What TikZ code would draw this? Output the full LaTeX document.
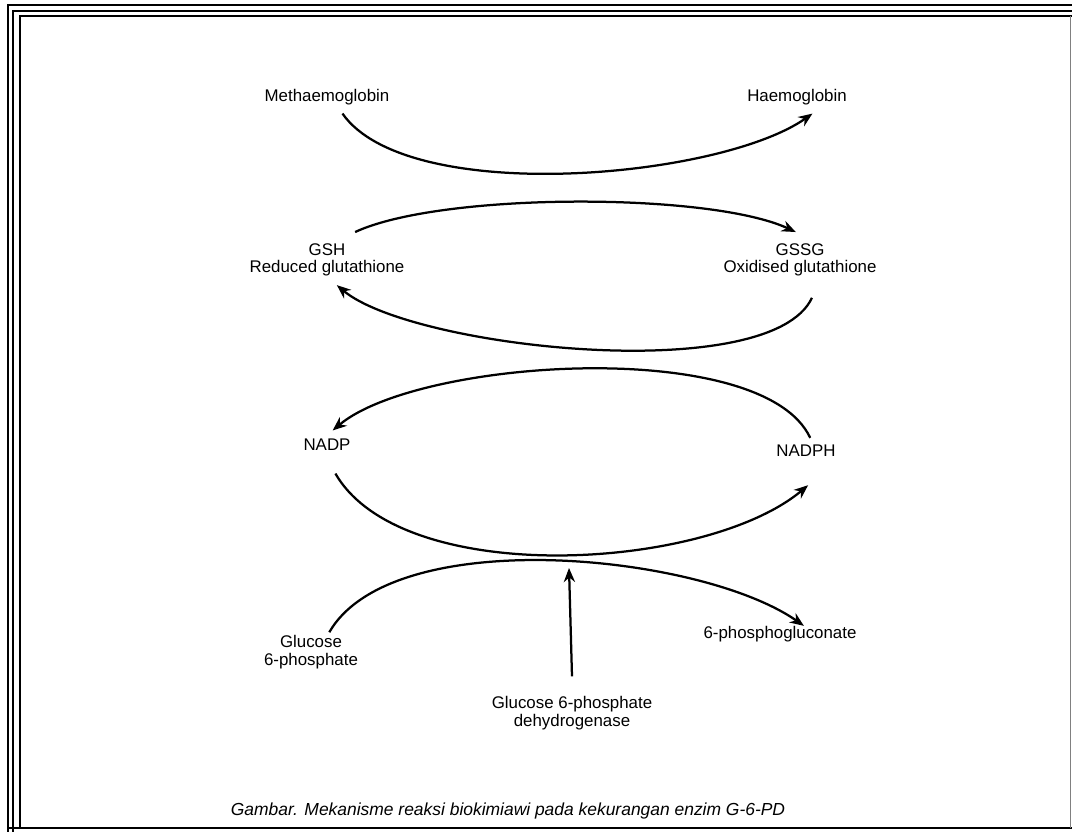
\documentclass[tikz,border=0pt]{standalone}
\usepackage{fontspec}
\setmainfont{Liberation Sans}
\usepackage{tikz}
\usetikzlibrary{arrows.meta,positioning,calc}

\begin{document}
\begin{tikzpicture}[x=0.025cm, y=-0.025cm,
    lbl/.style={font=\fontsize{12}{12.5}\selectfont, inner sep=2pt, align=center},
    flow/.style={line width=1.6pt, -{Stealth[length=10pt,width=8pt]}}]
    \useasboundingbox[fill=white] (0,0) rectangle (1072,832);

    % frame
    \draw[line width=1.3pt] (8,832) |- (1072,5);
    \draw[line width=1.3pt] (13,832) |- (1072,11);
    \draw[line width=0.9pt] (20,827) |- (1072,16);
    \draw[line width=1.6pt] (8,828) -- (1072,828);
    \draw[gray, line width=0.4pt] (1070,16) -- (1070,828);

    % compounds
    \node[lbl] (meth) at (327,97) {Methaemoglobin};
    \node[lbl] (haem) at (797,97) {Haemoglobin};
    \node[lbl] (gsh) at (327,260) {GSH\\Reduced glutathione};
    \node[lbl] (gssg) at (800,260) {GSSG\\Oxidised glutathione};
    \node[lbl] (nadp) at (327,445) {NADP};
    \node[lbl] (nadph) at (806,451) {NADPH};
    \node[lbl] (g6p) at (311,652) {Glucose\\6-phosphate};
    \node[lbl] (pgl) at (780,634) {6-phosphogluconate};
    \node[lbl] (g6pd) at (572,713) {Glucose 6-phosphate\\dehydrogenase};
    \coordinate (enz) at (569,568);

    % reactions
    \draw[flow] ([xshift=11pt,yshift=-4pt]meth.south) to[out=-55,in=-145,looseness=0.62] ([xshift=11pt,yshift=-4pt]haem.south);
    \draw[flow] ([xshift=20pt,yshift=6pt]gsh.north) to[out=25,in=155,looseness=0.55] ([xshift=-3pt,yshift=6pt]gssg.north);
    \draw[flow] ([xshift=8.5pt,yshift=-13pt]gssg.south) to[out=-115,in=-40,looseness=0.53] ([xshift=7pt,yshift=-4pt]gsh.south);
    \draw[flow] ([xshift=3pt,yshift=3pt]nadph.north) to[out=115,in=40,looseness=0.6] ([xshift=4pt,yshift=4pt]nadp.north);
    \draw[flow] ([xshift=6pt,yshift=-14pt]nadp.south) to[out=-60,in=-140,looseness=0.72] ([xshift=1.5pt,yshift=-18pt]nadph.south);
    \draw[flow] ([xshift=13pt]g6p.north) to[out=60,in=145,looseness=0.68] ([xshift=17pt,yshift=-2pt]pgl.north);
    \draw[flow] ([yshift=12pt]g6pd.north) -- (enz);

    % caption
    \node[font=\fontsize{12.4}{14}\selectfont\itshape] (cap) at (508,811) {Gambar. Mekanisme reaksi biokimiawi pada kekurangan enzim G-6-PD};
\end{tikzpicture}
\end{document}
